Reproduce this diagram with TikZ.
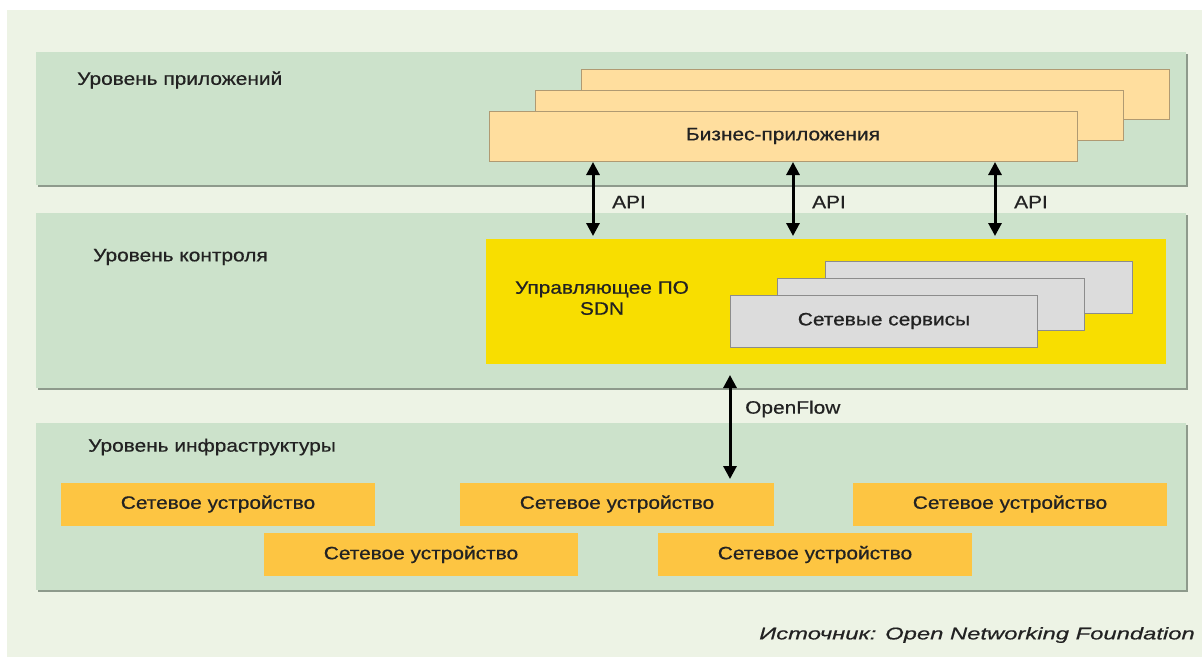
\documentclass[tikz,border=0pt]{standalone}
\usepackage{fontspec}
\setmainfont{Liberation Sans}[FakeStretch=1.16, FakeBold=0.6]
\newfontfamily\srcfont{Liberation Sans}[FakeStretch=1.4, FakeBold=0.6]
\usetikzlibrary{arrows.meta}
\definecolor{bgc}{HTML}{EDF3E5}
\definecolor{panelc}{HTML}{CCE2CB}
\definecolor{shadowc}{HTML}{8E9A8C}
\definecolor{appc}{HTML}{FFDE9E}
\definecolor{appd}{HTML}{B09A72}
\definecolor{ctrlc}{HTML}{F8DE00}
\definecolor{svcc}{HTML}{DCDCDC}
\definecolor{svcd}{HTML}{8C8C8C}
\definecolor{devc}{HTML}{FDC542}
\definecolor{txtc}{HTML}{222222}
\tikzset{
  appbox/.style={fill=appc, draw=appd, line width=1pt, minimum width=588pt, minimum height=50pt},
  svcbox/.style={fill=svcc, draw=svcd, line width=1pt, minimum width=307pt, minimum height=52pt},
  devbox/.style={fill=devc, draw=none, minimum width=314pt, minimum height=43pt},
  lbl/.style={text=txtc, font=\fontsize{18}{21}\selectfont},
  biarrow/.style={line width=3pt, {Triangle[width=13pt,length=13pt]}-{Triangle[width=13pt,length=13pt]}}
}
\begin{document}
\begin{tikzpicture}[x=1pt,y=-1pt]
\useasboundingbox (0,0) rectangle (1202,657);
\fill[white] (0,0) rectangle (1202,657);
\fill[bgc] (7,10) rectangle (1202,657);
% panels with shadow
\foreach \t/\b in {52/185, 213/388, 423/590}{
  \fill[shadowc] (38,\t+2) rectangle (1188,\b+2);
  \fill[panelc] (36,\t) rectangle (1186,\b);
}
% layer labels
\node[lbl, anchor=west, inner sep=0pt] (lapp) at (77,80) {Уровень приложений};
\node[lbl, anchor=west, inner sep=0pt] (lctl) at (93,257) {Уровень контроля};
\node[lbl, anchor=west, inner sep=0pt] (linf) at (88,447) {Уровень инфраструктуры};
% application boxes
\node[appbox] (app3) at (875,94) {};
\node[appbox] (app2) at (829,115) {};
\node[appbox, lbl] (app1) at (783,136) {Бизнес-приложения};
% control
\node[fill=ctrlc, minimum width=680pt, minimum height=125pt] (ctrl) at (826,301.5) {};
\node[lbl, align=center] (sdn) at (602,298) {Управляющее ПО\\SDN};
\node[svcbox] (svc3) at (979,287) {};
\node[svcbox] (svc2) at (931,304) {};
\node[svcbox, lbl] (svc1) at (884,321) {Сетевые сервисы};
% API arrows
\foreach \i/\x in {1/593, 2/793, 3/995}{
  \coordinate (at\i) at (\x,162);
  \coordinate (ab\i) at (\x,236);
  \draw[biarrow] (at\i) -- (ab\i);
  \node[lbl, anchor=west, inner sep=0pt] (api\i) at (\x+19,202) {API};
}
% devices
\node[devbox, lbl] (d1) at (218,504) {Сетевое устройство};
\node[devbox, lbl] (d2) at (617,504) {Сетевое устройство};
\node[devbox, lbl] (d3) at (1010,504) {Сетевое устройство};
\node[devbox, lbl] (d4) at (421,554.5) {Сетевое устройство};
\node[devbox, lbl] (d5) at (815,554.5) {Сетевое устройство};
% OpenFlow arrow
\coordinate (oft) at (730,375);
\coordinate (ofb) at (730,479);
\draw[biarrow] (oft) -- (ofb);
\node[lbl, anchor=west, inner sep=0pt] (of) at (745,409) {OpenFlow};
% source
\node[anchor=east, inner sep=0pt, text=txtc, font=\srcfont\itshape\fontsize{17}{20}\selectfont] (src) at (1195,635) {Источник: Open Networking Foundation};
\end{tikzpicture}
\end{document}
